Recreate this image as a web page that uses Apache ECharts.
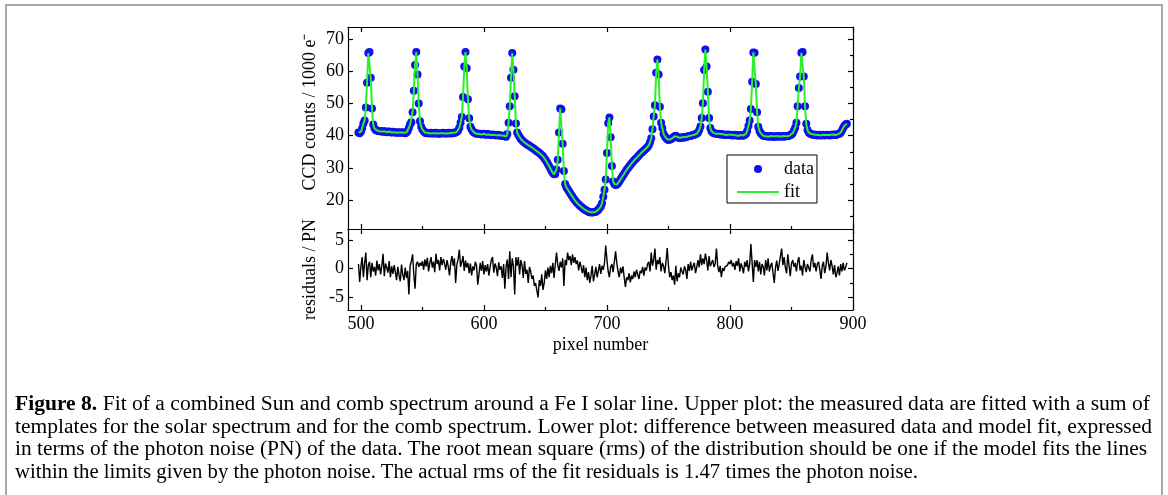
<!DOCTYPE html>
<html>
<head>
<meta charset="utf-8">
<script src="https://cdn.jsdelivr.net/npm/echarts@6/dist/echarts.min.js"></script>
<style>
  html, body { margin: 0; padding: 0; background: #fff; width: 1168px; height: 495px; overflow: hidden; }
  #frame { position: absolute; left: 5px; top: 4px; width: 1158px; height: 700px; border: 2px solid #a8a8a8; box-sizing: border-box; }
  #chart { position: absolute; left: 0; top: 0; width: 1168px; height: 495px; }
  #caption { position: absolute; left: 15px; top: 392px; font-family: "Liberation Serif", "Times New Roman", serif; font-size: 20px; color: #000; }
  #caption .ln { height: 22.6px; line-height: 22.6px; white-space: nowrap; }
  #caption .ln span.t { display: inline-block; transform-origin: 0 50%; }
</style>
</head>
<body>
<div id="frame"></div>
<div id="chart"></div>
<div id="caption">
  <div class="ln"><span class="t"><b>Figure 8.</b> Fit of a combined Sun and comb spectrum around a Fe I solar line. Upper plot: the measured data are fitted with a sum of</span></div>
  <div class="ln"><span class="t">templates for the solar spectrum and for the comb spectrum. Lower plot: difference between measured data and model fit, expressed</span></div>
  <div class="ln"><span class="t">in terms of the photon noise (PN) of the data. The root mean square (rms) of the distribution should be one if the model fits the lines</span></div>
  <div class="ln"><span class="t">within the limits given by the photon noise. The actual rms of the fit residuals is 1.47 times the photon noise.</span></div>
</div>
<script>
// ---------------- DATA ----------------
const pixelStart = 498; // first pixel number, one value per pixel
// CCD counts / 1000 e- (blue dots), pixels 498..895
const ccdCounts = [
  41.0, 40.8, 41.2, 42.3, 43.8, 44.7, 48.8, 56.5, 65.7, 66.0,
  58.0, 48.5, 43.5, 42.3, 41.8, 41.6, 41.5, 41.4, 41.5, 41.3,
  41.2, 41.4, 41.3, 41.1, 41.2, 41.3, 41.1, 41.0, 41.2, 41.1,
  41.0, 40.9, 41.1, 41.0, 40.9, 41.0, 41.1, 40.9, 40.8, 41.0,
  41.5, 42.5, 43.6, 44.2, 47.3, 54.0, 62.0, 66.0, 59.0, 50.0,
  44.5, 42.8, 41.9, 41.4, 41.0, 40.8, 40.9, 40.8, 40.7, 40.9,
  40.8, 40.7, 40.8, 40.9, 40.7, 40.6, 40.8, 40.7, 40.8, 40.9,
  40.7, 40.8, 40.7, 40.9, 40.8, 40.7, 40.9, 40.8, 40.9, 41.0,
  41.2, 41.6, 42.5, 44.0, 45.8, 52.0, 61.5, 66.0, 61.0, 51.3,
  45.4, 42.8, 41.9, 41.3, 41.0, 40.8, 40.6, 40.7, 40.5, 40.6,
  40.4, 40.5, 40.6, 40.4, 40.3, 40.5, 40.4, 40.3, 40.2, 40.4,
  40.3, 40.2, 40.1, 40.3, 40.2, 40.0, 40.1, 39.9, 40.0, 39.8,
  39.7, 40.5, 44.0, 49.2, 58.0, 65.7, 60.5, 52.3, 43.8, 41.0,
  40.2, 39.6, 39.0, 38.6, 38.2, 37.9, 37.6, 37.3, 37.1, 36.9,
  36.6, 36.3, 36.1, 35.8, 35.5, 35.2, 34.9, 34.6, 34.3, 33.9,
  33.6, 33.0, 32.5, 31.9, 31.2, 30.5, 29.8, 29.0, 28.4, 28.0,
  28.1, 29.5, 32.5, 41.0, 48.5, 48.2, 37.5, 29.0, 25.0, 24.0,
  23.4, 22.8, 22.2, 21.6, 21.0, 20.4, 19.9, 19.4, 19.0, 18.6,
  18.2, 17.9, 17.6, 17.3, 17.0, 16.8, 16.6, 16.4, 16.2, 16.2,
  16.1, 16.2, 16.3, 16.4, 16.7, 17.0, 17.5, 18.0, 19.0, 21.0,
  23.2, 26.4, 34.6, 43.9, 45.7, 39.5, 30.6, 25.8, 25.0, 24.7,
  24.8, 25.2, 25.8, 26.4, 27.0, 27.6, 28.2, 28.8, 29.4, 29.9,
  30.4, 30.9, 31.4, 31.8, 32.3, 32.7, 33.1, 33.5, 33.9, 34.3,
  34.7, 35.0, 35.4, 35.7, 36.1, 36.5, 37.0, 38.0, 39.2, 42.0,
  46.0, 49.5, 59.6, 63.7, 59.0, 49.0, 44.0, 42.4, 40.6, 39.8,
  39.3, 38.9, 38.7, 38.8, 38.9, 39.2, 39.5, 39.8, 40.0, 39.7,
  39.4, 39.3, 39.4, 39.5, 39.4, 39.6, 39.5, 39.7, 39.8, 39.9,
  40.0, 40.1, 40.2, 40.3, 40.5, 40.6, 41.0, 41.8, 42.9, 45.5,
  50.1, 60.4, 66.8, 61.5, 53.7, 45.5, 42.4, 41.4, 41.0, 40.8,
  40.7, 40.6, 40.5, 40.6, 40.4, 40.5, 40.3, 40.4, 40.3, 40.2,
  40.4, 40.3, 40.2, 40.3, 40.1, 40.2, 40.3, 40.1, 40.2, 40.0,
  40.1, 40.2, 40.0, 40.1, 40.3, 40.6, 41.5, 43.0, 44.7, 48.3,
  56.8, 65.9, 65.8, 56.1, 47.3, 42.8, 41.5, 40.8, 40.4, 40.0,
  39.9, 39.8, 39.9, 39.7, 39.8, 39.9, 39.7, 39.8, 39.6, 39.8,
  39.7, 39.9, 39.8, 39.7, 39.8, 39.9, 39.7, 39.8, 39.9, 39.8,
  40.0, 40.2, 40.4, 40.8, 41.6, 42.5, 44.0, 49.2, 54.8, 58.4,
  65.8, 66.0, 58.4, 49.2, 43.7, 41.8, 41.0, 40.7, 40.5, 40.3,
  40.4, 40.2, 40.3, 40.1, 40.2, 40.3, 40.1, 40.2, 40.3, 40.1,
  40.2, 40.3, 40.2, 40.1, 40.3, 40.2, 40.4, 40.3, 40.2, 40.4,
  40.5, 40.6, 41.0, 41.6, 42.4, 43.1, 43.5, 43.7
];
// green fit curve: at this scale it runs through the dots
const fitCounts = ccdCounts;
// residuals / photon noise, pixels 498..895
const residuals = [
  0.8, -2.3, 0.4, 2.0, -1.5, 1.0, 2.8, -2.0, 0.6, 1.2,
  -1.5, 1.0, -0.5, 0.3, -1.2, 1.4, -0.3, 0.8, -1.0, 0.5,
  2.6, -1.3, 0.9, 0.2, -0.7, 1.3, -1.5, 0.4, -0.9, 0.6,
  -0.6, -2.0, 0.3, -1.1, -2.2, 0.7, -1.0, -2.0, 0.2, -1.6,
  -0.4, -4.5, 0.5, 1.3, 2.5, -1.0, -3.5, 0.8, 1.2, 0.3,
  1.0, 0.5, 1.3, -0.2, 1.6, 0.4, 1.9, -0.5, 1.0, 2.0,
  0.2, 1.2, -0.6, 2.6, 0.8, 1.5, -0.3, 2.0, 0.6, 1.7,
  0.9, -0.2, 1.5, 0.4, -1.2, 1.0, 2.2, 0.5, 1.8, -2.5,
  0.7, 1.6, 3.3, 0.3, 1.1, 2.2, -0.4, 1.4, 0.2, 1.0,
  -0.8, 0.9, -1.2, 0.4, -0.3, 1.2, 0.5, -2.8, -0.9, 1.0,
  -0.4, 1.3, -1.0, 0.6, -0.5, 0.8, -1.2, 0.3, 1.5, 2.0,
  -0.7, 0.9, 0.2, -1.3, 1.1, -0.2, 0.4, -1.6, 0.8, -3.5,
  0.4, 1.6, -1.8, 3.0, -1.5, 1.8, 0.5, -4.5, 2.0, 0.5,
  2.0, -1.0, 1.5, 0.6, -1.6, 1.3, -0.9, -0.2, -2.5, 0.3,
  -0.5, -1.8, -1.2, -3.0, -2.5, -3.8, -5.0, -2.0, -3.0, -1.0,
  -3.7, -2.5, -0.3, -1.8, 0.2, -1.5, 0.5, -0.8, 1.0, -1.6,
  0.8, 2.8, 0.6, -0.4, 1.2, 0.2, 1.8, -3.0, 1.5, 0.6,
  2.8, 1.5, 2.2, 0.6, 2.5, 1.0, 2.0, 0.8, 1.4, -0.3,
  1.2, 0.3, -0.8, 0.6, -1.5, 0.2, -2.0, -0.6, -2.5, -1.2,
  0.5, -2.2, -1.0, 0.3, -1.5, -0.4, 0.8, -0.9, 0.5, -0.2,
  1.0, 4.0, 1.5, -0.5, -1.5, 0.3, 0.8, -0.6, 1.2, 3.0,
  1.0, -0.5, -1.5, 0.2, -0.8, 0.4, -1.5, -3.2, -1.5, -2.0,
  -0.8, -2.4, -1.2, -1.8, -0.5, -1.5, -0.2, -1.0, -1.8, -0.4,
  -0.8, 0.3, -1.2, 0.2, -0.3, 0.8, 1.2, -0.5, 2.8, 0.5,
  1.5, 3.5, -0.2, 1.5, 0.8, 2.0, -0.5, 1.0, 0.5, -0.8,
  1.2, 3.6, 0.5, -1.5, -0.6, -2.0, -1.2, -2.8, 0.5, -2.2,
  -0.8, -1.5, 0.2, -0.5, -1.0, 0.4, -0.2, -1.8, 0.8, -0.4,
  1.2, -0.3, 0.5, 1.0, -0.8, 0.3, 1.5, 0.2, 2.5, 0.6,
  1.8, 0.8, 2.6, 1.5, -0.3, 2.2, 0.4, 1.0, 1.5, 0.3,
  0.9, 3.5, 0.5, -0.6, 0.5, -1.5, 0.1, -0.4, 0.3, 0.0,
  0.6, 1.2, 0.8, 1.5, 0.4, 1.0, -0.2, 1.3, 0.5, 1.8,
  -0.5, 0.9, 0.2, -0.8, 1.2, 0.3, 1.5, -0.5, 0.8, 4.3,
  1.0, -2.3, 1.5, 0.3, 1.5, -0.5, 1.2, -1.0, 0.8, 0.4,
  -1.2, 1.5, -0.3, 1.8, -0.5, 0.5, 1.0, -0.8, -2.5, 0.2,
  1.4, -0.4, 0.8, 1.0, 3.5, 0.6, 2.0, 0.2, -0.8, 2.5,
  0.6, -1.3, 0.9, 1.5, 0.3, 1.0, -0.5, 1.2, 2.0, -0.3,
  0.5, -1.2, 1.5, 0.3, -0.6, 0.8, 1.0, -0.5, 1.5, 2.5,
  0.2, 1.0, -0.5, 0.8, 1.2, -0.2, -1.8, 0.5, 1.2, -0.8,
  0.4, 2.8, 1.0, -0.3, 1.5, 0.5, -1.0, 0.6, -1.5, -0.8,
  0.4, -1.2, 0.8, -0.5, 1.0, -0.3, 0.2, 1.0
];
// axis ticks
const xMajorTicks = [500, 600, 700, 800, 900];
const xMinorTicks = [550, 650, 750, 850];
const countMajorTicks = [20, 30, 40, 50, 60, 70];
const countMinorTicks = [15, 25, 35, 45, 55, 65];
const residMajorTicks = [-5, 0, 5];
const residMinorTicks = [-2.5, 2.5];
// axis ranges
const xRange = [489.5, 900];
const countRange = [11, 73.8];
const residRange = [-7.2, 6.9];

// ---------------- CHART ----------------
const FONT = '"Liberation Serif", "Times New Roman", serif';
const BLUE = '#0f0fef';
const GREEN = '#2bef2b';

function axis(grid, pos, range, ticks, len, showLine, showLabels) {
  return {
    type: 'value', gridIndex: grid, position: pos, min: range[0], max: range[1],
    axisLine: { show: showLine, onZero: false, lineStyle: { color: '#000', width: 1.2 } },
    axisTick: { show: true, inside: true, length: len, customValues: ticks, lineStyle: { color: '#000', width: 1.2 } },
    axisLabel: { show: showLabels, customValues: ticks, fontFamily: FONT, fontSize: 18, color: '#000', margin: (pos === 'left' ? 4 : 5) },
    splitLine: { show: false }, minorTick: { show: false }
  };
}

const xAxes = [
  axis(0, 'bottom', xRange, xMajorTicks, 5, true, false),
  axis(0, 'top', xRange, xMajorTicks, 5, true, false),
  axis(0, 'bottom', xRange, xMinorTicks, 3, false, false),
  Object.assign(axis(1, 'bottom', xRange, xMajorTicks, 5, true, true), {
    name: 'pixel number', nameLocation: 'middle', nameGap: 26,
    nameTextStyle: { fontFamily: FONT, fontSize: 18, color: '#000' }
  }),
  axis(1, 'top', xRange, xMajorTicks, 5, true, false),
  axis(1, 'bottom', xRange, xMinorTicks, 3, false, false)
];
const yAxes = [
  axis(0, 'left', countRange, countMajorTicks, 5, true, true),
  axis(0, 'right', countRange, countMajorTicks, 5, true, false),
  axis(0, 'right', countRange, countMinorTicks, 3, false, false),
  Object.assign(axis(1, 'left', residRange, residMajorTicks, 5, true, true), {
    name: 'residuals / PN', nameLocation: 'middle', nameGap: 29, nameRotate: 90,
    nameTextStyle: { fontFamily: FONT, fontSize: 18, color: '#000' }
  }),
  axis(1, 'right', residRange, residMajorTicks, 5, true, false),
  axis(1, 'right', residRange, residMinorTicks, 3, false, false)
];

const dataPts = ccdCounts.map((v, i) => [pixelStart + i, v]);
const fitPts = fitCounts.map((v, i) => [pixelStart + i, v]);
const residPts = residuals.map((v, i) => [pixelStart + i, v]);

const chart = echarts.init(document.getElementById('chart'), null, { renderer: 'canvas' });
chart.setOption({
  animation: false,
  backgroundColor: 'transparent',
  grid: [
    { left: 348, top: 27, width: 505, height: 202 },
    { left: 348, top: 229, width: 505, height: 81 }
  ],
  xAxis: xAxes,
  yAxis: yAxes,
  legend: {
    show: true, orient: 'vertical', left: 727, top: 155,
    padding: [5, 3, 2, 10], itemGap: 5, itemWidth: 42, itemHeight: 8,
    borderColor: '#000', borderWidth: 1, backgroundColor: '#fff',
    textStyle: { fontFamily: FONT, fontSize: 18, color: '#000' },
    data: [
      { name: 'data', icon: 'circle' },
      { name: 'fit', icon: 'path://M0,0L40,0L40,2L0,2Z' }
    ]
  },
  graphic: [{
    type: 'text', x: 310, y: 112, rotation: Math.PI / 2,
    style: { text: 'CCD counts / 1000 e\u207B', fontFamily: FONT, fontSize: 18, fill: '#000', align: 'center', verticalAlign: 'middle' }
  }],
  series: [
    { type: 'scatter', name: 'data', xAxisIndex: 0, yAxisIndex: 0, data: dataPts,
      symbol: 'circle', symbolSize: 8, itemStyle: { color: BLUE, opacity: 1 }, z: 2 },
    { type: 'line', name: 'fit', xAxisIndex: 0, yAxisIndex: 0, data: fitPts,
      symbol: 'none', showSymbol: false, lineStyle: { color: GREEN, width: 2 }, itemStyle: { color: GREEN }, z: 3 },
    { type: 'line', name: 'residuals', xAxisIndex: 3, yAxisIndex: 3, data: residPts,
      symbol: 'none', showSymbol: false, lineStyle: { color: '#000', width: 1.4 }, itemStyle: { color: '#000' }, z: 3 }
  ]
});

// fit caption lines to the reference widths
const targets = [1135, 1137, 1132, 903];
document.querySelectorAll('#caption span.t').forEach((el, i) => {
  const w = el.getBoundingClientRect().width;
  if (w > 0) el.style.transform = 'scaleX(' + (targets[i] / w) + ')';
});
</script>
</body>
</html>
